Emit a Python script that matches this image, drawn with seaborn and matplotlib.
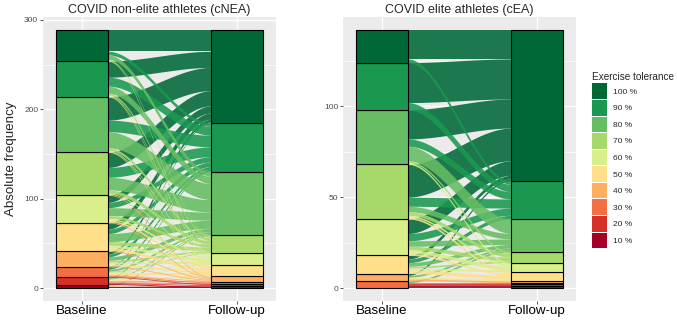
import numpy as np
import matplotlib
matplotlib.use("Agg")
import matplotlib.pyplot as plt
from matplotlib.patches import Patch
from matplotlib.ticker import MultipleLocator
import seaborn as sns

# tolerance levels, bottom of the stack first
levels = ["10 %", "20 %", "30 %", "40 %", "50 %", "60 %", "70 %", "80 %", "90 %", "100 %"]
timepoints = ["Baseline", "Follow-up"]

# transitions: rows = baseline level, cols = follow-up level (same order as levels)
cnea_flows = [
    [1, 1, 0, 0, 1, 0, 0, 1, 0, 0],
    [1, 1, 1, 1, 1, 1, 0, 1, 1, 0],
    [0, 1, 1, 1, 2, 1, 1, 2, 2, 1],
    [0, 0, 0, 1, 2, 2, 2, 4, 3, 3],
    [0, 0, 0, 1, 3, 3, 4, 9, 5, 7],
    [0, 0, 0, 1, 2, 2, 3, 9, 6, 8],
    [0, 0, 0, 1, 0, 1, 4, 14, 11, 17],
    [0, 0, 0, 0, 1, 1, 3, 18, 13, 26],
    [0, 0, 0, 0, 1, 1, 2, 8, 10, 18],
    [0, 0, 0, 0, 0, 1, 1, 5, 4, 24],
]
cea_flows = [
    [0, 0, 0, 0, 0, 0, 0, 0, 0, 0],
    [0, 0, 0, 0, 0, 0, 0, 0, 0, 0],
    [1, 1, 1, 0, 0, 0, 0, 1, 0, 0],
    [0, 0, 0, 1, 1, 0, 0, 1, 0, 1],
    [0, 0, 0, 0, 2, 1, 1, 2, 2, 2],
    [0, 0, 0, 0, 1, 2, 2, 3, 4, 8],
    [0, 0, 0, 0, 1, 1, 2, 3, 5, 18],
    [0, 0, 0, 0, 0, 1, 1, 8, 4, 16],
    [0, 0, 0, 0, 0, 0, 0, 0, 4, 22],
    [0, 0, 0, 0, 0, 0, 0, 0, 2, 16],
]
panel_titles = ["COVID non-elite athletes (cNEA)", "COVID elite athletes (cEA)"]

# RdYlGn, 10 classes
palette = ["#a50026", "#d73027", "#f46d43", "#fdae61", "#fee08b",
           "#d9ef8b", "#a6d96a", "#66bd63", "#1a9850", "#006837"]

sns.set_theme(style="darkgrid", rc={
    "axes.facecolor": "#EBEBEB",
    "grid.color": "white",
    "xtick.bottom": True,
    "ytick.left": True,
})
plt.rcParams["font.family"] = ["Liberation Sans", "DejaVu Sans"]


def sigmoid(t):
    return 3 * t ** 2 - 2 * t ** 3


def alluvial(ax, flows, title, ylabel=None, width=1/3):
    flows = np.array(flows)
    n = len(levels)
    base = flows.sum(axis=1)
    follow = flows.sum(axis=0)
    base_bottom = np.concatenate([[0], np.cumsum(base)[:-1]])
    follow_bottom = np.concatenate([[0], np.cumsum(follow)[:-1]])

    # where each flow sits at both ends
    left_pos = {}
    cur = base_bottom.copy()
    for i in range(n):
        for j in range(n):
            left_pos[(i, j)] = cur[i]
            cur[i] += flows[i, j]
    right_pos = {}
    cur = follow_bottom.copy()
    for j in range(n):
        for i in range(n):
            right_pos[(i, j)] = cur[j]
            cur[j] += flows[i, j]

    x0, x1 = 1 + width / 2, 2 - width / 2
    xs = np.linspace(x0, x1, 80)
    s = sigmoid((xs - x0) / (x1 - x0))
    for j in reversed(range(n)):
        for i in range(n):
            v = flows[i, j]
            if v == 0:
                continue
            lo = left_pos[(i, j)] + (right_pos[(i, j)] - left_pos[(i, j)]) * s
            ax.fill_between(xs, lo, lo + v, color=palette[j], alpha=0.88, lw=0)

    for x, counts, bottoms in [(1, base, base_bottom), (2, follow, follow_bottom)]:
        for k in range(n):
            if counts[k] == 0:
                continue
            ax.bar(x, counts[k], bottom=bottoms[k], width=width, color=palette[k],
                   edgecolor="black", linewidth=0.8, zorder=3)

    total = flows.sum()
    ax.set_xlim(0.75, 2.25)
    ax.set_ylim(-0.05 * total, 1.05 * total)
    ax.set_xticks([1, 2])
    ax.set_xticklabels(timepoints, fontsize=9.6, color="black")
    ax.set_title(title, fontsize=9, pad=3)
    ax.set_xlabel("")
    ax.set_ylabel(ylabel or "", fontsize=9.6)
    ax.grid(which="major", linewidth=1.0)
    ax.grid(which="minor", axis="y", color="white", linewidth=0.5)
    ax.tick_params(axis="both", which="major", length=2.2, width=0.6, color="#333333", pad=1.2)
    ax.tick_params(axis="x", pad=0.6)
    ax.tick_params(axis="y", labelsize=6, labelcolor="#4D4D4D")
    ax.tick_params(axis="y", which="minor", length=0)
    for sp in ax.spines.values():
        sp.set_visible(False)


fig = plt.figure(figsize=(6.77, 3.21), dpi=100)
ax1 = fig.add_axes([0.0635, 0.0623, 0.344, 0.885])
ax2 = fig.add_axes([0.5066, 0.0623, 0.344, 0.885])

alluvial(ax1, cnea_flows, panel_titles[0], "Absolute frequency")
ax1.yaxis.set_major_locator(MultipleLocator(100))
ax1.yaxis.set_minor_locator(MultipleLocator(50))
ax1.yaxis.set_label_coords(-0.11, 0.5)

alluvial(ax2, cea_flows, panel_titles[1])
ax2.yaxis.set_major_locator(MultipleLocator(50))
ax2.yaxis.set_minor_locator(MultipleLocator(25))

handles = [Patch(facecolor=palette[k], edgecolor="none") for k in reversed(range(len(levels)))]
fig.legend(handles, list(reversed(levels)), title="Exercise tolerance",
           loc="upper left", bbox_to_anchor=(0.869, 0.785), frameon=False,
           fontsize=6, title_fontsize=7.2, handlelength=1.8, handleheight=2.5,
           labelspacing=0.12, handletextpad=0.8, borderaxespad=0, alignment="left")

fig.savefig("out.png", dpi=100)
